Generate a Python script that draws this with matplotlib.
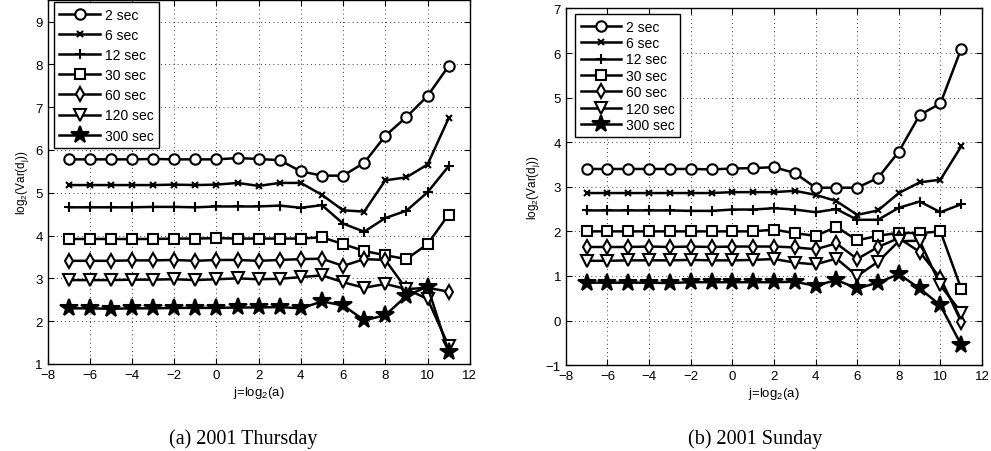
import matplotlib
matplotlib.use("Agg")
import matplotlib.pyplot as plt
import numpy as np

plt.rcParams['font.family'] = ['Liberation Sans', 'DejaVu Sans']
plt.rcParams['mathtext.default'] = 'regular'
plt.rcParams['font.size'] = 9

# scale index j = log2(a)
j = list(range(-7, 12))
labels = ['2 sec', '6 sec', '12 sec', '30 sec', '60 sec', '120 sec', '300 sec']

# (a) 2001 Thursday
thu_2s = [5.78, 5.78, 5.78, 5.78, 5.79, 5.78, 5.78, 5.78, 5.81, 5.79, 5.76, 5.50, 5.40, 5.40, 5.70, 6.33, 6.77, 7.26, 7.96]
thu_6s = [5.18, 5.18, 5.18, 5.18, 5.18, 5.19, 5.18, 5.19, 5.23, 5.16, 5.23, 5.23, 4.95, 4.59, 4.56, 5.29, 5.36, 5.66, 6.74]
thu_12s = [4.66, 4.66, 4.66, 4.66, 4.67, 4.67, 4.66, 4.68, 4.68, 4.68, 4.70, 4.65, 4.71, 4.28, 4.09, 4.41, 4.58, 5.01, 5.62]
thu_30s = [3.92, 3.92, 3.92, 3.92, 3.92, 3.93, 3.93, 3.94, 3.93, 3.93, 3.93, 3.93, 3.96, 3.80, 3.64, 3.54, 3.45, 3.80, 4.49]
thu_60s = [3.41, 3.41, 3.41, 3.42, 3.42, 3.43, 3.41, 3.43, 3.43, 3.41, 3.43, 3.45, 3.46, 3.29, 3.45, 3.43, 2.75, 2.78, 2.69]
thu_120s = [2.96, 2.96, 2.96, 2.97, 2.97, 2.98, 2.96, 2.98, 3.00, 2.98, 2.99, 3.03, 3.07, 2.91, 2.78, 2.87, 2.75, 2.52, 1.42]
thu_300s = [2.30, 2.30, 2.29, 2.30, 2.30, 2.31, 2.31, 2.31, 2.32, 2.32, 2.33, 2.30, 2.46, 2.37, 2.02, 2.14, 2.59, 2.81, 1.28]

# (b) 2001 Sunday
sun_2s = [3.40, 3.40, 3.40, 3.40, 3.40, 3.40, 3.39, 3.41, 3.42, 3.44, 3.31, 2.98, 2.98, 2.98, 3.20, 3.79, 4.61, 4.87, 6.10]
sun_6s = [2.86, 2.86, 2.86, 2.86, 2.86, 2.86, 2.86, 2.88, 2.88, 2.88, 2.91, 2.82, 2.68, 2.37, 2.47, 2.86, 3.10, 3.16, 3.91]
sun_12s = [2.47, 2.47, 2.47, 2.47, 2.47, 2.46, 2.46, 2.49, 2.49, 2.52, 2.49, 2.43, 2.50, 2.26, 2.26, 2.53, 2.67, 2.43, 2.61]
sun_30s = [2.00, 2.00, 2.00, 2.00, 2.00, 2.00, 2.00, 2.00, 2.00, 2.04, 1.96, 1.90, 2.10, 1.80, 1.90, 1.97, 1.96, 2.00, 0.71]
sun_60s = [1.65, 1.65, 1.65, 1.66, 1.65, 1.66, 1.65, 1.66, 1.66, 1.66, 1.64, 1.60, 1.73, 1.38, 1.65, 1.85, 1.54, 0.95, -0.03]
sun_120s = [1.34, 1.34, 1.35, 1.35, 1.35, 1.36, 1.35, 1.35, 1.36, 1.38, 1.30, 1.26, 1.39, 1.00, 1.32, 1.78, 1.79, 0.79, 0.18]
sun_300s = [0.85, 0.85, 0.85, 0.85, 0.84, 0.86, 0.86, 0.86, 0.86, 0.86, 0.87, 0.78, 0.91, 0.72, 0.85, 1.04, 0.72, 0.34, -0.55]

thu = [thu_2s, thu_6s, thu_12s, thu_30s, thu_60s, thu_120s, thu_300s]
sun = [sun_2s, sun_6s, sun_12s, sun_30s, sun_60s, sun_120s, sun_300s]

# marker style per series: (marker, size, face)
styles = [('o', 7.5, 'white'), ('x', 5, 'black'), ('+', 7, 'black'), ('s', 6.5, 'white'),
          ('d', 7.5, 'white'), ('v', 8.5, 'white'), ('*', 13, 'black')]


def draw(ax, series, ylim, yticks, anchor, spacing):
    for vals, lab, (m, ms, fc) in zip(series, labels, styles):
        ax.plot(j, vals, color='black', lw=1.8, marker=m, markersize=ms,
                markerfacecolor=fc, markeredgecolor='black', markeredgewidth=1.5, label=lab)
    ax.set_xlim(-8, 12)
    ax.set_ylim(*ylim)
    ax.set_xticks(range(-8, 13, 2))
    ax.set_yticks(yticks)
    ax.grid(True, linestyle=(0, (1, 4)), color='black', lw=0.6)
    ax.tick_params(direction='in', top=True, right=True, length=4, labelsize=9.5)
    for s in ax.spines.values():
        s.set_linewidth(1.0)
    ax.set_xlabel('j=log$_2$(a)', fontsize=9.5, labelpad=2)
    ax.set_ylabel('log$_2$(Var(d$_j$))', fontsize=8.5, labelpad=3)
    leg = ax.legend(loc='upper left', bbox_to_anchor=anchor, borderaxespad=0, fontsize=10,
                    handlelength=2.9, labelspacing=spacing, fancybox=False, framealpha=1,
                    edgecolor='black', borderpad=0.4, handletextpad=0.35)
    leg.get_frame().set_linewidth(1.0)


fig = plt.figure(figsize=(9.91, 4.52), dpi=100)
ax1 = fig.add_axes([0.048, 0.1925, 0.426, 0.805])
ax2 = fig.add_axes([0.571, 0.190, 0.42, 0.789])

draw(ax1, thu, (1, 9.5), range(1, 10), (0.015, 0.994), 0.44)
draw(ax2, sun, (-1, 7), range(-1, 8), (0.022, 0.984), 0.17)

fig.text(0.245, 0.018, '(a) 2001 Thursday', family='Liberation Serif', fontsize=14.5, ha='center', va='baseline')
fig.text(0.762, 0.018, '(b) 2001 Sunday', family='Liberation Serif', fontsize=14.5, ha='center', va='baseline')

fig.savefig('out.png', dpi=100)
